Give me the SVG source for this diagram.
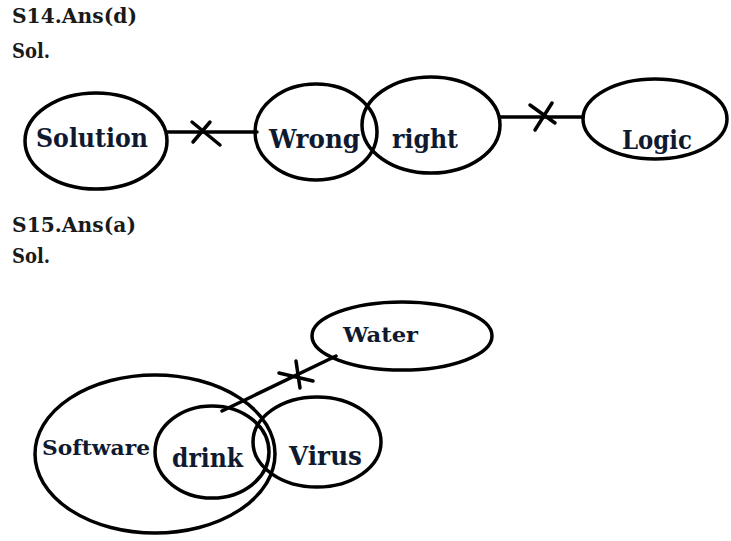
<svg xmlns="http://www.w3.org/2000/svg" width="731" height="541" viewBox="0 0 731 541">
<style>
.n{fill:none;stroke:#000;stroke-width:3.5}
.c{fill:none;stroke:#000;stroke-width:3.5;stroke-linecap:round}
text{font-family:"DejaVu Serif","Liberation Serif",serif;font-weight:bold;fill:#1a1a1a}
.h{font-size:20px}
.l{font-size:26px;fill:#0f1a30}
.s{font-size:21px;fill:#0f1a30}
</style>
<rect width="731" height="541" fill="#fff"/>
<g id="headers">
<text class="h" x="12" y="23" textLength="125" lengthAdjust="spacingAndGlyphs">S14.Ans(d)</text>
<text class="h" x="12" y="58" textLength="38" lengthAdjust="spacingAndGlyphs">Sol.</text>
<text class="h" x="12" y="232" textLength="124" lengthAdjust="spacingAndGlyphs">S15.Ans(a)</text>
<text class="h" x="12" y="263" textLength="38" lengthAdjust="spacingAndGlyphs">Sol.</text>
</g>
<g id="connectors">
<line class="c" x1="167" y1="132" x2="257" y2="132"/>
<line class="c" x1="192" y1="122" x2="220" y2="145"/>
<line class="c" x1="210" y1="122" x2="193" y2="142"/>
<line class="c" x1="500" y1="117" x2="583" y2="117"/>
<line class="c" x1="530" y1="105" x2="555" y2="123"/>
<line class="c" x1="552" y1="103" x2="535" y2="130"/>
<line class="c" x1="222" y1="411" x2="336" y2="356"/>
<line class="c" x1="296" y1="361" x2="300" y2="388"/>
<line class="c" x1="279" y1="373" x2="313" y2="381"/>
</g>
<g id="solution"><ellipse class="n" cx="96" cy="141" rx="71" ry="48"/><text class="l" x="36" y="147" textLength="112" lengthAdjust="spacingAndGlyphs">Solution</text></g>
<g id="wrong"><ellipse class="n" cx="316" cy="132" rx="61" ry="48"/><text class="l" x="269" y="148" textLength="91" lengthAdjust="spacingAndGlyphs">Wrong</text></g>
<g id="right"><ellipse class="n" cx="431" cy="125" rx="69" ry="48"/><text class="l" x="392" y="148" textLength="66" lengthAdjust="spacingAndGlyphs">right</text></g>
<g id="logic"><ellipse class="n" cx="655" cy="119" rx="72" ry="40"/><text class="l" x="622" y="149" textLength="70" lengthAdjust="spacingAndGlyphs">Logic</text></g>
<g id="water"><ellipse class="n" cx="402" cy="336" rx="90" ry="34"/><text class="s" x="343" y="342" textLength="75" lengthAdjust="spacingAndGlyphs">Water</text></g>
<g id="software"><ellipse class="n" cx="155" cy="454" rx="120" ry="79"/><text class="s" x="42" y="455" textLength="108" lengthAdjust="spacingAndGlyphs">Software</text></g>
<g id="drink"><ellipse class="n" cx="212" cy="452" rx="57" ry="46"/><text class="l" x="172" y="467" textLength="71" lengthAdjust="spacingAndGlyphs">drink</text></g>
<g id="virus"><ellipse class="n" cx="317" cy="442" rx="64" ry="45"/><text class="l" x="289" y="465" textLength="73" lengthAdjust="spacingAndGlyphs">Virus</text></g>
</svg>
